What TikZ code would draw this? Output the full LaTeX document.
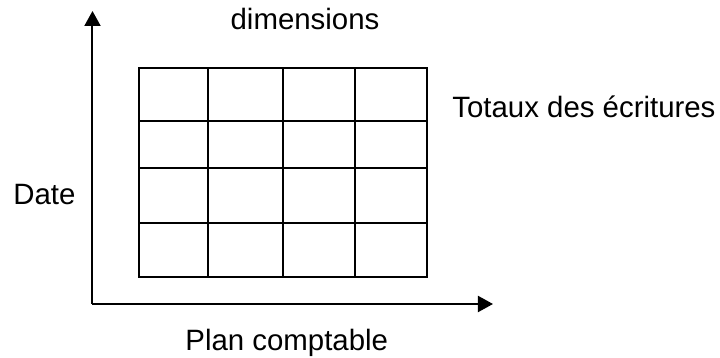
\documentclass[tikz,border=0pt]{standalone}
\usepackage{fontspec}
\setmainfont{Liberation Sans}
\usepackage{tikz}
\usetikzlibrary{arrows.meta,positioning}

\begin{document}
\begin{tikzpicture}[
  x=0.5pt,y=-0.5pt,
  font=\fontsize{14.7}{17}\selectfont,
  lbl/.style={inner sep=0pt,anchor=base west},
  ax/.style={line width=1pt,-{Triangle[length=7.5pt,width=8pt]}},
  grd/.style={line width=1pt}
]
\useasboundingbox (0,0) rectangle (720,358);
% axes
\coordinate (o) at (92.5,304);
\coordinate (ytop) at (92.5,11);
\coordinate (xend) at (493,304);
\draw[ax] (o) -- (ytop);
\draw[ax] (o.center) -- (xend);
% table
\draw[grd] (139,68) rectangle (427,277);
\foreach \xx in {208,283,355} \draw[grd] (\xx,68) -- (\xx,277);
\foreach \yy in {121,168,223} \draw[grd] (139,\yy) -- (427,\yy);
% labels
\node[lbl,anchor=base] (dim) at (305,30) {dimensions};
\node[lbl] (tot) at (452,118) {Totaux des écritures};
\node[lbl] (date) at (13,205) {Date};
\node[lbl] (plan) at (185,351) {Plan comptable};
\end{tikzpicture}
\end{document}
